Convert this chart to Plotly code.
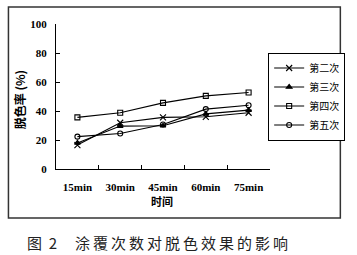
import plotly.graph_objects as go

categories = ["15min", "30min", "45min", "60min", "75min"]
series_names = ["第二次", "第三次", "第四次", "第五次"]
s2 = [16.5, 31.9, 35.6, 36.0, 38.8]
s3 = [18.0, 29.6, 29.8, 38.0, 40.6]
s4 = [35.6, 38.8, 45.6, 50.4, 52.8]
s5 = [22.3, 24.5, 30.7, 41.3, 44.0]
y_ticks = [0, 20, 40, 60, 80, 100]

symbols = ["x-thin-open", "triangle-up", "square-open", "circle-open"]
sizes = [6, 5, 5, 5]

W, H = 357, 255
L, R, T, B = 56, 272, 24, 169

def px(x):
    return (x - L) / (R - L)

def py(y):
    return (B - y) / (B - T)

fig = go.Figure()
for name, vals, sym, sz in zip(series_names, [s2, s3, s4, s5], symbols, sizes):
    fig.add_trace(go.Scatter(
        x=categories, y=vals, name=name, mode="lines+markers",
        line=dict(color="black", width=1.1),
        marker=dict(symbol=sym, size=sz, color="black",
                    line=dict(color="black", width=1.1)),
    ))

cjk = "Noto Sans CJK SC"
serif = "Liberation Serif"
ts = "\u2009"
caption_body = ts.join("涂覆次数对脱色效果的影响")

fig.update_layout(
    width=W, height=H,
    margin=dict(l=L, r=W - R, t=T, b=H - B),
    paper_bgcolor="white", plot_bgcolor="white",
    showlegend=True,
    legend=dict(
        x=px(309), y=0.5, xanchor="center", yanchor="middle",
        bordercolor="black", borderwidth=1, bgcolor="white",
        font=dict(family=cjk, size=10, color="black"),
        itemwidth=30, tracegroupgap=0,
    ),
    xaxis=dict(
        type="category", tickson="boundaries",
        showline=True, linecolor="black", linewidth=1,
        ticks="inside", ticklen=4, tickcolor="black",
        showgrid=False, zeroline=False,
        tickfont=dict(family=serif, size=11, color="black", weight="bold"),
        ticklabelstandoff=8,
        range=[-0.5, 4.5],
    ),
    yaxis=dict(
        range=[0, 100], tickvals=y_ticks,
        showline=True, linecolor="black", linewidth=1,
        ticks="inside", ticklen=4, tickcolor="black",
        showgrid=False, zeroline=False,
        tickfont=dict(family=serif, size=11, color="black", weight="bold"),
        ticklabelstandoff=6,
    ),
    shapes=[dict(type="rect", xref="paper", yref="paper",
                 x0=px(8), x1=px(343), y0=py(218), y1=py(7),
                 line=dict(color="#333333", width=1.5))],
    annotations=[
        dict(text="脱色率 (%)", xref="paper", yref="paper",
             x=px(20), y=py(100), textangle=-90, showarrow=False,
             xanchor="center", yanchor="middle",
             font=dict(family=cjk, size=12, color="black", weight="bold")),
        dict(text="时间", xref="paper", yref="paper",
             x=px(163), y=py(201), showarrow=False,
             xanchor="center", yanchor="middle",
             font=dict(family=cjk, size=11, color="black", weight="bold")),
        dict(text="图\u00a0\u00a02", xref="paper", yref="paper",
             x=px(25), y=py(242.5), showarrow=False,
             xanchor="left", yanchor="middle",
             font=dict(family=cjk, size=15, color="#222222")),
        dict(text=caption_body, xref="paper", yref="paper",
             x=px(73), y=py(242.5), showarrow=False,
             xanchor="left", yanchor="middle",
             font=dict(family=cjk, size=15, color="#222222")),
    ],
)

fig.write_html("out.html")
